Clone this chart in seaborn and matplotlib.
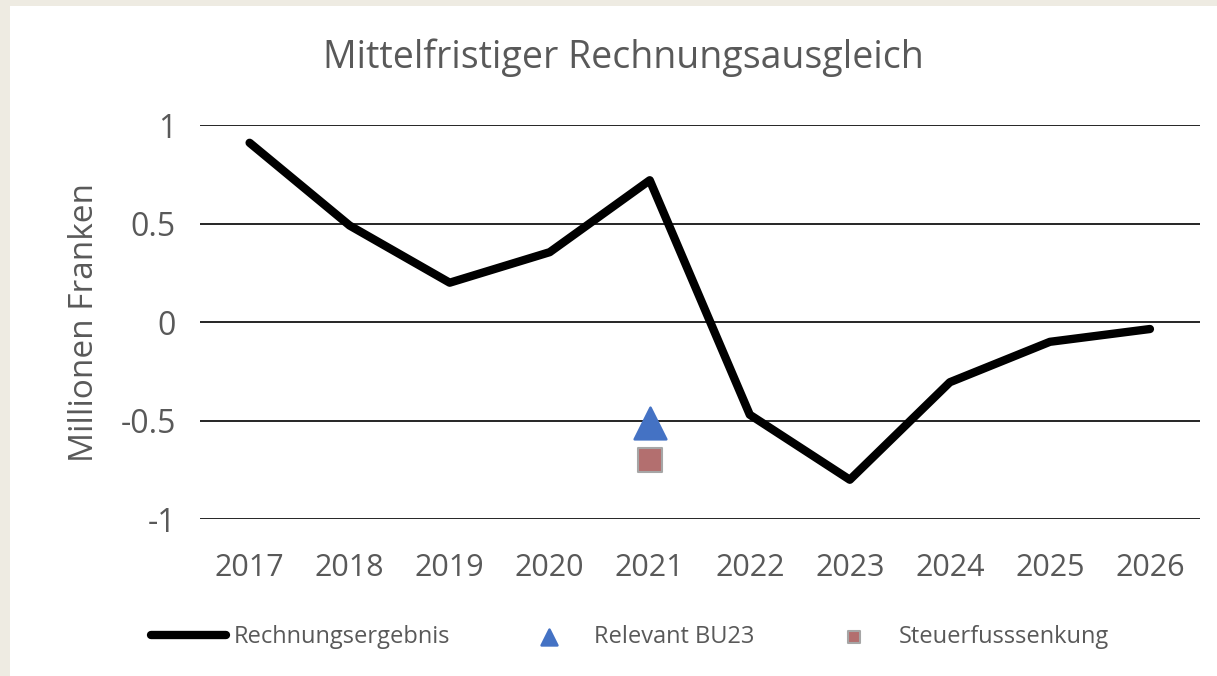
import seaborn as sns
import matplotlib.pyplot as plt
import pandas as pd
from matplotlib.patches import Rectangle

# Datos
years = ['2017', '2018', '2019', '2020', '2021', '2022', '2023', '2024', '2025', '2026']
rechnungsergebnis = [0.91, 0.49, 0.20, 0.355, 0.72, -0.47, -0.80, -0.305, -0.10, -0.035]
relevant_year = ['2021']
relevant_bu23 = [-0.51]
steuer_year = ['2021']
steuerfusssenkung = [-0.70]

sns.set_style('white')
plt.rcParams['font.family'] = ['Open Sans', 'DejaVu Sans']
grey = '#595959'

fig = plt.figure(figsize=(12.17, 6.76), dpi=100)
fig.patch.set_facecolor('#EEEBE2')
fig.patches.append(Rectangle((10 / 1217, 0), 1, 1 - 6 / 676, transform=fig.transFigure,
                             facecolor='white', edgecolor='none', zorder=-5))

ax = fig.add_axes([0.164, 0.232, 0.822, 0.583])
ax.set_facecolor('none')

df = pd.DataFrame({'Jahr': years, 'Wert': rechnungsergebnis})
sns.lineplot(data=df, x='Jahr', y='Wert', ax=ax, color='black', linewidth=6,
             label='Rechnungsergebnis', zorder=3, clip_on=False)
sns.scatterplot(x=relevant_year, y=relevant_bu23, ax=ax, marker='^', s=520,
                color='#4472C4', edgecolor='#4472C4', label='Relevant BU23', zorder=4)
sns.scatterplot(x=steuer_year, y=steuerfusssenkung, ax=ax, marker='s', s=280,
                color='#B36F6F', edgecolor='#A6A6A6', linewidth=1.5,
                label='Steuerfusssenkung', zorder=4)

ax.set_xlim(-0.5, 9.5)
ax.set_ylim(-1, 1)
ax.set_yticks([-1, -0.5, 0, 0.5, 1])
ax.set_yticklabels(['-1', '-0.5', '0', '0.5', '1'])
ax.grid(axis='y', color='black', linewidth=1.2)
ax.grid(axis='x', visible=False)
sns.despine(ax=ax, left=True, bottom=True)
ax.tick_params(axis='both', length=0, labelsize=22, colors=grey)
ax.tick_params(axis='x', pad=24)
ax.tick_params(axis='y', labelsize=23, pad=17)

ax.set_xlabel('')
ax.set_ylabel('Millionen Franken', fontsize=24, color=grey, labelpad=14)
fig.text(0.512, 0.915, 'Mittelfristiger Rechnungsausgleich', ha='center', va='center',
         fontsize=27, color=grey)

ax.legend(loc='center', bbox_to_anchor=(0.43, -0.30), ncol=3, frameon=False,
          fontsize=17, labelcolor=grey, handlelength=3.2, handletextpad=0.3,
          columnspacing=2.6, markerscale=0.5)

fig.savefig('out.png', dpi=100)
